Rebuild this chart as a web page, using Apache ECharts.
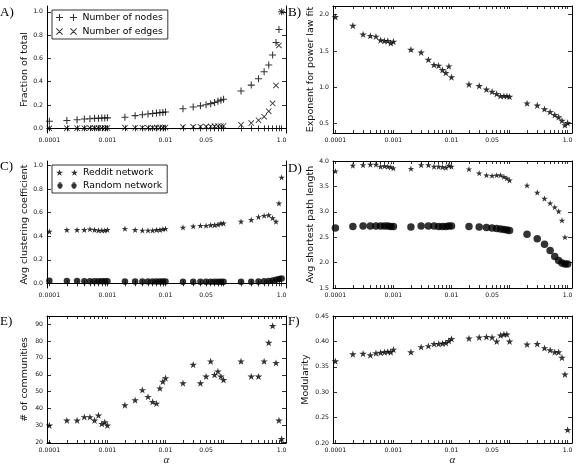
<!DOCTYPE html>
<html><head><meta charset="utf-8">
<script src="https://cdn.jsdelivr.net/npm/echarts@6/dist/echarts.min.js"></script>
<style>html,body{margin:0;padding:0;background:#fff}#c{width:576px;height:468px}</style>
</head><body><div id="c"></div>
<script>
// ---- data ----
const alphas = [0.0001,0.0002,0.0003,0.0004,0.0005,0.0006,0.0007,0.0008,0.0009,0.001,
  0.002,0.003,0.004,0.005,0.006,0.007,0.008,0.009,0.01,
  0.02,0.03,0.04,0.05,0.06,0.07,0.08,0.09,0.1,
  0.2,0.3,0.4,0.5,0.6,0.7,0.8,0.9,1.0];
const xTickValues = [0.0001,0.001,0.01,0.05,1.0];
const xTickText = ['0.0001','0.001','0.01','0.05','1.0'];

const nodesFrac = [0.06,0.068,0.074,0.08,0.083,0.086,0.087,0.088,0.089,0.09,
  0.095,0.109,0.117,0.123,0.128,0.131,0.134,0.137,0.14,
  0.168,0.183,0.193,0.203,0.212,0.222,0.232,0.242,0.25,
  0.32,0.371,0.426,0.486,0.543,0.629,0.737,0.849,1.0];
const edgesFrac = [0.0005,0.001,0.001,0.0015,0.002,0.002,0.002,0.0025,0.003,0.003,
  0.004,0.005,0.005,0.006,0.006,0.007,0.007,0.008,0.008,
  0.011,0.013,0.014,0.015,0.016,0.017,0.018,0.019,0.02,
  0.03,0.045,0.07,0.1,0.147,0.215,0.368,0.712,1.0];
const powerExp = [1.97,1.85,1.73,1.71,1.70,1.65,1.64,1.64,1.61,1.63,
  1.52,1.48,1.38,1.31,1.30,1.24,1.20,1.29,1.14,
  1.04,1.02,0.97,0.94,0.91,0.88,0.88,0.88,0.87,
  0.78,0.75,0.70,0.66,0.62,0.59,0.54,0.48,0.51];
const clustReddit = [0.44,0.455,0.455,0.455,0.46,0.455,0.45,0.45,0.45,0.455,
  0.465,0.455,0.45,0.45,0.45,0.455,0.455,0.46,0.465,
  0.475,0.485,0.49,0.49,0.495,0.495,0.50,0.51,0.51,
  0.525,0.54,0.565,0.575,0.58,0.555,0.525,0.68,0.90];
const clustRandom = [0.022,0.02,0.02,0.018,0.018,0.017,0.017,0.017,0.017,0.017,
  0.016,0.016,0.016,0.015,0.015,0.015,0.015,0.015,0.015,
  0.014,0.014,0.013,0.013,0.013,0.013,0.013,0.013,0.013,
  0.013,0.014,0.015,0.017,0.02,0.024,0.03,0.036,0.04];
const pathReddit = [3.80,3.91,3.92,3.93,3.93,3.89,3.90,3.89,3.88,3.86,
  3.85,3.92,3.92,3.89,3.89,3.88,3.87,3.91,3.89,
  3.84,3.76,3.72,3.71,3.72,3.72,3.69,3.66,3.62,
  3.52,3.38,3.26,3.17,3.09,3.01,2.83,2.50,null];
const pathRandom = [2.68,2.71,2.72,2.72,2.72,2.72,2.72,2.72,2.71,2.71,
  2.70,2.72,2.72,2.72,2.71,2.71,2.71,2.72,2.72,
  2.71,2.70,2.69,2.68,2.67,2.66,2.65,2.64,2.63,
  2.56,2.47,2.36,2.24,2.12,2.04,1.99,1.97,1.97];
const communities = [30,33,33,35,35,33,36,31,32,30,
  42,45,51,47,44,43,52,56,58,
  55,66,55,59,68,60,62,59,57,
  68,59,59,68,79,89,67,33,22];
const modularity = [0.361,0.375,0.376,0.373,0.377,0.378,0.379,0.38,0.379,0.384,
  0.379,0.389,0.391,0.395,0.395,0.396,0.397,0.401,0.405,
  0.406,0.408,0.409,0.408,0.40,0.412,0.414,0.414,0.40,
  0.394,0.395,0.387,0.383,0.379,0.379,0.368,0.335,0.226];

const yTicksA = [0.0,0.2,0.4,0.6,0.8,1.0];
const yTicksB = [0.5,1.0,1.5,2.0];
const yTicksC = [0.0,0.2,0.4,0.6,0.8,1.0];
const yTicksD = [1.5,2.0,2.5,3.0,3.5,4.0];
const yTicksE = [20,30,40,50,60,70,80,90];
const yTicksF = [0.20,0.25,0.30,0.35,0.40,0.45];

const panelLetters = ['A)','B)','C)','D)','E)','F)'];
const yNames = ['Fraction of total','Exponent for power law fit','Avg clustering coefficient',
  'Avg shortest path length','# of communities','Modularity'];
const xName = 'α';

// ---- layout / style ----
const FONT = 'DejaVu Sans';
const grids = [
  {left:47, top:6}, {left:333, top:6},
  {left:47, top:161}, {left:333, top:161},
  {left:47, top:316}, {left:333, top:316}
].map(g => ({left:g.left, top:g.top, width:239, height:127}));
const yCfg = [
  {min:-0.04, max:1.05, ticks:yTicksA, dec:1, gap:16},
  {min:0.37, max:2.12, ticks:yTicksB, dec:1, gap:15},
  {min:-0.04, max:1.04, ticks:yTicksC, dec:1, gap:17},
  {min:1.5, max:4.0, ticks:yTicksD, dec:1, gap:16},
  {min:19.6, max:94.8, ticks:yTicksE, dec:0, gap:17},
  {min:0.2, max:0.45, ticks:yTicksF, dec:2, gap:22}
];
const XMIN = 0.000091, XMAX = 1.19;

const starPath = 'path://M100,0L122.45,69.1L195.1,69.1L136.3,111.8L158.8,180.9L100,138.2L41.2,180.9L63.7,111.8L4.9,69.1L77.55,69.1Z';
const plusPath = 'path://M3.4,0H4.6V3.4H8V4.6H4.6V8H3.4V4.6H0V3.4H3.4Z';
const crossPath = 'path://M0,0.8L0.8,0L8,7.2L7.2,8ZM7.2,0L8,0.8L0.8,8L0,7.2Z';
const plus2 = 'path://M3.4,0H4.6V3.4H8V4.6H4.6V8H3.4V4.6H0V3.4H3.4ZM19.4,0H20.6V3.4H24V4.6H20.6V8H19.4V4.6H16V3.4H19.4Z';
const cross2 = 'path://M0,0.8L0.8,0L8,7.2L7.2,8ZM7.2,0L8,0.8L0.8,8L0,7.2ZM16,0.8L16.8,0L24,7.2L23.2,8ZM23.2,0L24,0.8L16.8,8L16,7.2Z';
const star2 = 'path://M4,0L4.9,2.76L7.8,2.76L5.45,4.47L6.35,7.24L4,5.53L1.65,7.24L2.55,4.47L0.2,2.76L3.1,2.76ZM20,0L20.9,2.76L23.8,2.76L21.45,4.47L22.35,7.24L20,5.53L17.65,7.24L18.55,4.47L16.2,2.76L19.1,2.76Z';
const circ2 = 'path://M1,4A3,3 0 1,1 7,4A3,3 0 1,1 1,4ZM3.6,0H4.4V8H3.6ZM2.4,0H5.6V0.6H2.4ZM2.4,7.4H5.6V8H2.4ZM17,4A3,3 0 1,1 23,4A3,3 0 1,1 17,4ZM19.6,0H20.4V8H19.6ZM18.4,0H21.6V0.6H18.4ZM18.4,7.4H21.6V8H18.4Z';

function fmtX(v) {
  for (let i = 0; i < xTickValues.length; i++) {
    if (Math.abs(xTickValues[i] - v) / xTickValues[i] < 1e-6) return xTickText[i];
  }
  return '';
}

const xAxes = [], yAxes = [];
grids.forEach((g, i) => {
  const base = {type:'log', gridIndex:i, min:XMIN, max:XMAX,
    axisLine:{show:true, lineStyle:{color:'#000', width:1}},
    splitLine:{show:false}, minorTick:{show:false}, minorSplitLine:{show:false}};
  xAxes.push(Object.assign({}, base, {position:'bottom',
    axisTick:{show:true, inside:true, length:3, customValues:alphas, lineStyle:{color:'#000', width:0.8}},
    axisLabel:{show:true, customValues:xTickValues, formatter:fmtX, fontSize:6.2, margin:4,
      color:'#111', fontFamily:FONT},
    name: i >= 4 ? xName : '', nameLocation:'middle', nameGap:12,
    nameTextStyle:{fontFamily:'Liberation Serif', fontStyle:'italic', fontSize:11, color:'#222'}}));
  xAxes.push(Object.assign({}, base, {position:'top',
    axisTick:{show:true, inside:true, length:3, customValues:alphas, lineStyle:{color:'#000', width:0.8}},
    axisLabel:{show:false}}));
  const c = yCfg[i];
  const ybase = {type:'value', gridIndex:i, min:c.min, max:c.max,
    axisLine:{show:true, lineStyle:{color:'#000', width:1}},
    splitLine:{show:false}};
  yAxes.push(Object.assign({}, ybase, {position:'left',
    axisTick:{show:true, inside:true, length:4, customValues:c.ticks, lineStyle:{color:'#000', width:0.8}},
    axisLabel:{show:true, customValues:c.ticks, formatter:v => v.toFixed(c.dec), fontSize:6.2, margin:4,
      color:'#111', fontFamily:FONT},
    name:yNames[i], nameLocation:'middle', nameRotate:90, nameGap:c.gap,
    nameTextStyle:{fontFamily:FONT, fontSize:9.5, color:'#111'}}));
  yAxes.push(Object.assign({}, ybase, {position:'right',
    axisTick:{show:true, inside:true, length:4, customValues:c.ticks, lineStyle:{color:'#000', width:0.8}},
    axisLabel:{show:false}}));
});

function pts(ys) { return alphas.map((a, i) => [a, ys[i]]); }
function sc(name, gi, ys, symbol, size) {
  return {type:'scatter', name:name, xAxisIndex:gi*2, yAxisIndex:gi*2, data:pts(ys),
    symbol:symbol, symbolSize:size, symbolKeepAspect:true,
    itemStyle:{color:'#000'}, emphasis:{disabled:true}, silent:true, animation:false};
}

const series = [
  sc('Number of nodes', 0, nodesFrac, plusPath, 7),
  sc('Number of edges', 0, edgesFrac, crossPath, 6),
  sc('Exponent', 1, powerExp, starPath, 7.5),
  sc('Reddit network', 2, clustReddit, starPath, 6.5),
  sc('Random network', 2, clustRandom, 'circle', 6.5),
  sc('Reddit network', 3, pathReddit, starPath, 6.5),
  sc('Random network', 3, pathRandom, 'circle', 7.5),
  sc('Communities', 4, communities, starPath, 7.5),
  sc('Modularity', 5, modularity, starPath, 7.5)
];

const letterPos = [[0,6],[288,6],[0,160],[288,162],[0,315],[288,315]];
const titles = panelLetters.map((t, i) => ({text:t, left:letterPos[i][0], top:letterPos[i][1], padding:0,
  textStyle:{fontFamily:'Liberation Serif', fontSize:13, fontWeight:'normal', color:'#000'}}));

const legendBase = {orient:'vertical', padding:[3,5,3,4], itemWidth:22, itemHeight:7, itemGap:5,
  backgroundColor:'#fff', borderColor:'#000', borderWidth:0.8, borderRadius:0,
  selectedMode:false, textStyle:{fontFamily:FONT, fontSize:9.3, color:'#000'}};
const legends = [
  Object.assign({}, legendBase, {left:52, top:10,
    data:[{name:'Number of nodes', icon:plus2}, {name:'Number of edges', icon:cross2}]}),
  Object.assign({}, legendBase, {left:52, top:165, itemGap:4,
    data:[{name:'Reddit network', icon:star2}, {name:'Random network', icon:circ2}]})
];

const chart = echarts.init(document.getElementById('c'), null, {renderer:'canvas'});
chart.setOption({
  animation:false,
  backgroundColor:'#fff',
  title:titles,
  legend:legends,
  grid:grids,
  xAxis:xAxes,
  yAxis:yAxes,
  series:series
});
</script></body></html>
